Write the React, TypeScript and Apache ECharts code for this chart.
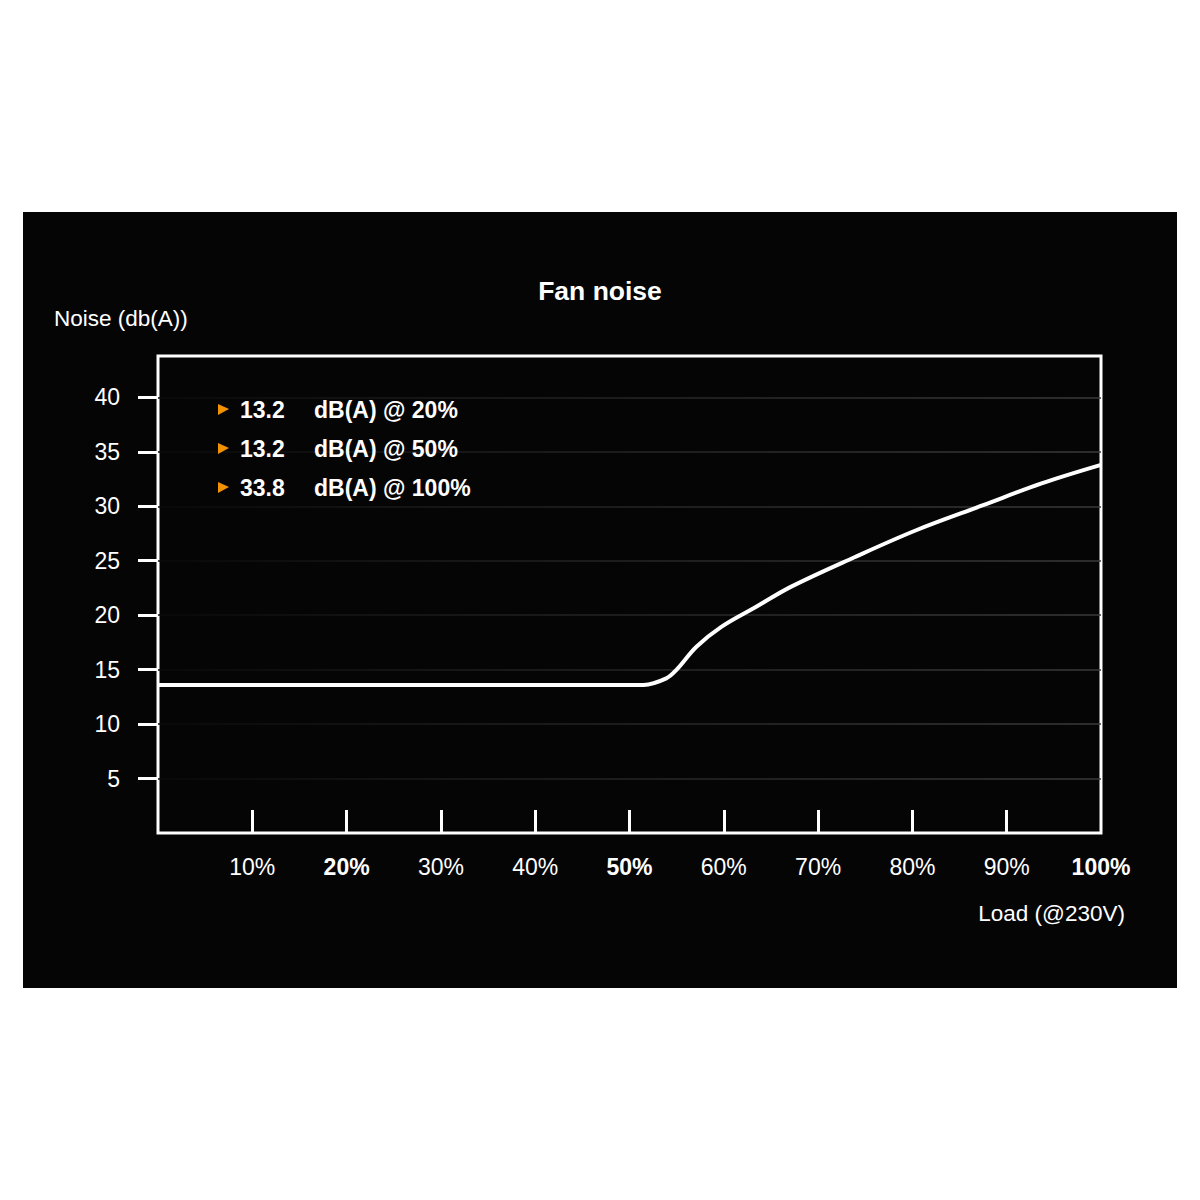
import { useRef, useEffect } from "react";
import * as echarts from "echarts";

// 负载 (%) 与噪音 dB(A)
const loads = [0, 10, 20, 30, 40, 50, 51.5, 53.9, 55.0, 57.1, 59.7, 63.3, 67.1, 73.8, 80.4, 87.5, 93.7, 100];
const noise = [13.6, 13.6, 13.6, 13.6, 13.6, 13.6, 13.6, 14.2, 15.0, 17.1, 18.9, 20.7, 22.6, 25.3, 27.8, 30.1, 32.1, 33.8];

const yTicks = [5, 10, 15, 20, 25, 30, 35, 40];
const xTicks = [10, 20, 30, 40, 50, 60, 70, 80, 90];
const xLabels = [10, 20, 30, 40, 50, 60, 70, 80, 90, 100];
const boldLoads = [20, 50, 100];

const noteValues = ["13.2", "13.2", "33.8"];
const noteLoads = ["20%", "50%", "100%"];

const FONT = "'Liberation Sans', Arial, Helvetica, sans-serif";

function App() {
    const chartRef = useRef<HTMLDivElement | null>(null);

    useEffect(() => {
        if (!chartRef.current) return;
        const chart = echarts.init(chartRef.current, null, { renderer: "svg" });

        const notes: any[] = [];
        noteValues.forEach((v, i) => {
            const y = 410 + i * 39;
            notes.push({
                type: "polygon",
                z: 20,
                shape: { points: [[218, y - 6], [229, y - 1], [218, y + 5]] },
                style: { fill: "#f39200" },
            });
            notes.push({
                type: "text",
                z: 20,
                x: 240,
                y,
                style: {
                    text: v,
                    fill: "#fff",
                    font: `bold 23px ${FONT}`,
                    verticalAlign: "middle",
                },
            });
            notes.push({
                type: "text",
                z: 20,
                x: 314,
                y,
                style: {
                    text: `dB(A) @ ${noteLoads[i]}`,
                    fill: "#fff",
                    font: `bold 23px ${FONT}`,
                    verticalAlign: "middle",
                },
            });
        });

        chart.setOption({
            animation: false,
            backgroundColor: "#fff",
            title: {
                text: "Fan noise",
                left: "center",
                top: 272,
                textStyle: { color: "#fff", fontSize: 26.5, fontWeight: "bold", fontFamily: FONT },
            },
            graphic: [
                {
                    type: "rect",
                    z: -10,
                    shape: { x: 23, y: 212, width: 1154, height: 776 },
                    style: { fill: "#050506" },
                },
                {
                    type: "text",
                    x: 54,
                    y: 318,
                    style: {
                        text: "Noise (db(A))",
                        fill: "#fff",
                        font: `22.5px ${FONT}`,
                        verticalAlign: "middle",
                    },
                },
                {
                    type: "text",
                    x: 1125,
                    y: 913,
                    style: {
                        text: "Load (@230V)",
                        fill: "#fff",
                        font: `22.5px ${FONT}`,
                        align: "right",
                        verticalAlign: "middle",
                    },
                },
                ...notes,
            ],
            grid: {
                left: 158,
                top: 356,
                width: 943,
                height: 477,
                show: true,
                borderColor: "#fff",
                borderWidth: 3,
                backgroundColor: "transparent",
            },
            xAxis: {
                type: "value",
                min: 0,
                max: 100,
                interval: 10,
                axisLine: { show: false },
                splitLine: { show: false },
                axisTick: {
                    show: true,
                    inside: true,
                    length: 23,
                    customValues: xTicks,
                    lineStyle: { color: "#fff", width: 3 },
                },
                axisLabel: {
                    customValues: xLabels,
                    margin: 22,
                    color: "#fff",
                    fontSize: 23,
                    fontFamily: FONT,
                    formatter: (v: number) =>
                        boldLoads.includes(v) ? `{b|${v}%}` : `${v}%`,
                    rich: {
                        b: { color: "#fff", fontSize: 23, fontWeight: "bold", fontFamily: FONT },
                    },
                },
            },
            yAxis: {
                type: "value",
                min: 0,
                max: 43.8,
                interval: 5,
                axisLine: { show: false },
                axisTick: {
                    show: true,
                    length: 20,
                    customValues: yTicks,
                    lineStyle: { color: "#fff", width: 3 },
                },
                axisLabel: {
                    customValues: yTicks,
                    margin: 38,
                    color: "#fff",
                    fontSize: 23,
                    fontFamily: FONT,
                },
                splitLine: {
                    show: true,
                    lineStyle: {
                        width: 1.5,
                        color: new echarts.graphic.LinearGradient(
                            158,
                            0,
                            1101,
                            0,
                            [
                                { offset: 0, color: "#0a0a0a" },
                                { offset: 0.35, color: "#1e1e1e" },
                                { offset: 1, color: "#3a3a3a" },
                            ],
                            true
                        ),
                    },
                },
            },
            series: [
                {
                    type: "line",
                    data: loads.map((x, i) => [x, noise[i]]),
                    smooth: 0.35,
                    showSymbol: false,
                    lineStyle: { color: "#fff", width: 4 },
                    z: 5,
                },
            ],
        });

        return () => chart.dispose();
    }, []);

    return (
        <div
            ref={chartRef}
            style={{ position: "absolute", left: 0, top: 0, width: "1200px", height: "1200px" }}
        />
    );
}

export default App;
